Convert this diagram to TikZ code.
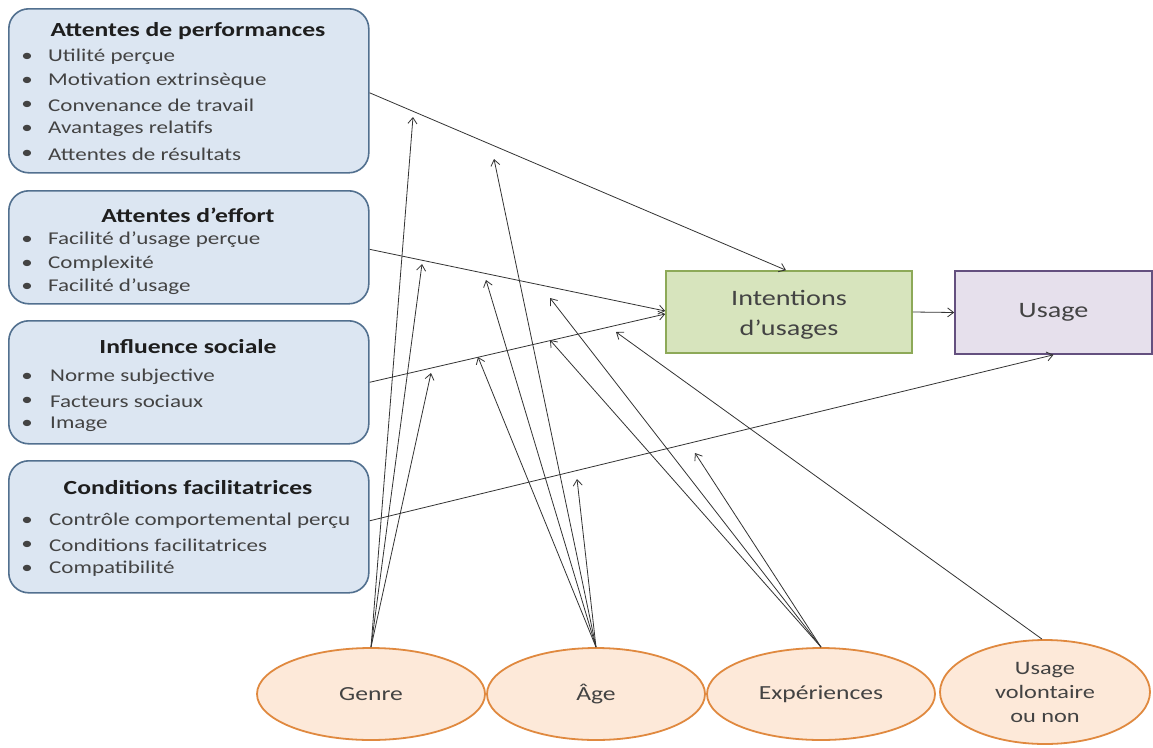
\documentclass[tikz,border=0pt]{standalone}
\usepackage{fontspec}
\setmainfont{Carlito}[FakeStretch=1.28]
\usetikzlibrary{arrows.meta,shapes.geometric}
\definecolor{bfill}{HTML}{DCE6F2}
\definecolor{bline}{HTML}{52708F}
\definecolor{gfill}{HTML}{D7E4BD}
\definecolor{gline}{HTML}{8DA958}
\definecolor{pfill}{HTML}{E6E0EC}
\definecolor{pline}{HTML}{64507F}
\definecolor{ofill}{HTML}{FDE9D9}
\definecolor{oline}{HTML}{E0893F}
\definecolor{itemtxt}{HTML}{434343}
\definecolor{titletxt}{HTML}{1E1E1E}
\definecolor{arrline}{HTML}{333333}
\begin{document}
\begin{tikzpicture}[x=1pt,y=-1pt,
  bluebox/.style={draw=bline,fill=bfill,line width=1.6pt,rounded corners=20pt,anchor=north west,inner sep=0pt},
  titlenode/.style={font=\fontsize{20}{24}\selectfont\bfseries,text=titletxt,inner sep=0pt},
  itemnode/.style={font=\fontsize{18}{22}\selectfont,text=itemtxt,anchor=west,inner sep=0pt},
  bulletnode/.style={font=\fontsize{18}{22}\selectfont,text=itemtxt,inner sep=0pt},
  ovalnode/.style={ellipse,draw=oline,fill=ofill,line width=1.8pt,inner sep=0pt,font=\fontsize{20}{24}\selectfont,text=itemtxt,align=center},
  arr/.style={draw=arrline,line width=0.8pt,-{Straight Barb[length=6pt,width=9pt]}}
]
\useasboundingbox (0,0) rectangle (1153,747);
\fill[white] (0,0) rectangle (1153,747);

% left boxes
\node[bluebox,minimum width=360pt,minimum height=164pt] (b1) at (8,8) {};
\node[bluebox,minimum width=360pt,minimum height=113pt] (b2) at (8,190) {};
\node[bluebox,minimum width=360pt,minimum height=123pt] (b3) at (8,320) {};
\node[bluebox,minimum width=360pt,minimum height=132pt] (b4) at (8,460) {};

% box 1 text
\node[titlenode] (t1) at (188,31) {Attentes de performances};
\foreach \y/\txt [count=\i] in {57/Utilité perçue,81/Motivation extrinsèque,105/Convenance de travail,129/Avantages relatifs,154/Attentes de résultats}{
  \node[bulletnode] (p1b\i) at (27,\y) {•};
  \node[itemnode] (p1i\i) at (48,\y) {\txt};
}
% box 2 text
\node[titlenode] (t2) at (188,215) {Attentes d’effort};
\foreach \y/\txt [count=\i] in {240/Facilité d’usage perçue,264/Complexité,287/Facilité d’usage}{
  \node[bulletnode] (p2b\i) at (27,\y) {•};
  \node[itemnode] (p2i\i) at (48,\y) {\txt};
}
% box 3 text
\node[titlenode] (t3) at (188,347) {Influence sociale};
\foreach \y/\txt [count=\i] in {377/Norme subjective,401/Facteurs sociaux,424/Image}{
  \node[bulletnode] (p3b\i) at (27,\y) {•};
  \node[itemnode] (p3i\i) at (50,\y) {\txt};
}
% box 4 text
\node[titlenode] (t4) at (188,488) {Conditions facilitatrices};
\foreach \y/\txt [count=\i] in {521/Contrôle comportemental perçu,545/Conditions facilitatrices,569/Compatibilité}{
  \node[bulletnode] (p4b\i) at (27,\y) {•};
  \node[itemnode] (p4i\i) at (49,\y) {\txt};
}

% central boxes
\node[draw=gline,fill=gfill,line width=1.6pt,minimum width=246pt,minimum height=82pt,inner sep=0pt,
  font=\fontsize{22}{32}\selectfont,text=itemtxt,align=center] (intent) at (789,312) {};
\node[font=\fontsize{22}{26}\selectfont,text=itemtxt,inner sep=0pt] (intentA) at (789,298) {Intentions};
\node[font=\fontsize{22}{26}\selectfont,text=itemtxt,inner sep=0pt] (intentB) at (789,330) {d’usages};
\node[draw=pline,fill=pfill,line width=1.6pt,minimum width=197pt,minimum height=83pt,inner sep=0pt,
  font=\fontsize{22}{26}\selectfont,text=itemtxt] (usage) at (1053.5,312.5) {Usage};

% moderators
\node[ovalnode,minimum width=228pt,minimum height=92pt] (genre) at (371,694) {Genre};
\node[ovalnode,minimum width=218pt,minimum height=92pt] (age) at (596,694) {Âge};
\node[ovalnode,minimum width=228pt,minimum height=92pt] (exp) at (821,694) {Expériences};
\node[ovalnode,minimum width=210pt,minimum height=104pt,font=\fontsize{19}{24}\selectfont] (vol) at (1045,692) {Usage\\volontaire\\ou non};

% coordinates of moderator arrow tips
\coordinate (g1) at (413,117);
\coordinate (g2) at (422,264);
\coordinate (g3) at (431,373);
\coordinate (a1) at (494,159);
\coordinate (a2) at (486,280);
\coordinate (a3) at (478,357);
\coordinate (a4) at (577,479);
\coordinate (e1) at (550,298);
\coordinate (e2) at (550,340);
\coordinate (e3) at (695,453);
\coordinate (v1) at (616,332);

% main arrows
\draw[arr] ([yshift=-2pt]b1.east) -- ([xshift=-3pt]intent.north);
\draw[arr] ([yshift=-2pt]b2.east) -- ([yshift=1pt]intent.west);
\draw[arr] (b3.east) -- ([yshift=-2pt]intent.west);
\draw[arr] ([yshift=6pt]b4.east) -- (usage.south);
\draw[arr] (intent.east) -- (usage.west);

% moderator arrows
\foreach \c in {g1,g2,g3}{\draw[arr] (genre.north) -- (\c);}
\foreach \c in {a1,a2,a3,a4}{\draw[arr] (age.north) -- (\c);}
\foreach \c in {e1,e2,e3}{\draw[arr] (exp.north) -- (\c);}
\draw[arr] ([xshift=-3pt]vol.north) -- (v1);
\end{tikzpicture}
\end{document}
